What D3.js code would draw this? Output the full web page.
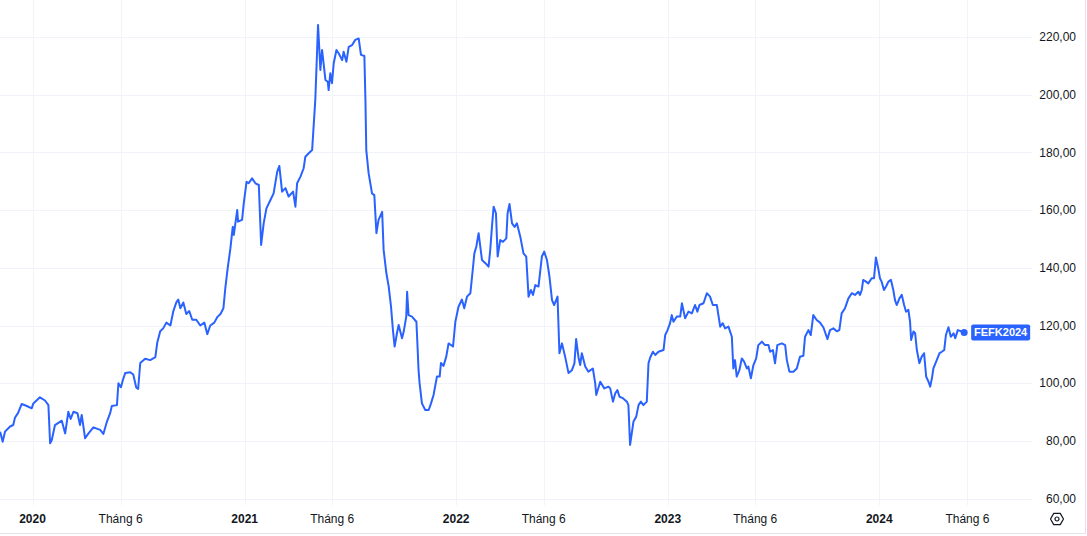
<!DOCTYPE html>
<html>
<head>
<meta charset="utf-8">
<script src="https://cdn.jsdelivr.net/npm/d3@7"></script>
<style>
  html, body { margin: 0; padding: 0; background: #fff; }
  svg { display: block; font-family: "Liberation Sans", Arial, sans-serif; }
</style>
</head>
<body>
<svg id="chart"></svg>
<script>
// Giá FEFK2024 – thời gian dạng năm thập phân
const times = [
  2019.847, 2019.859, 2019.870, 2019.894, 2019.909, 2019.917, 2019.932, 2019.949, 2019.973, 2019.996,
  2020.004, 2020.035, 2020.059, 2020.075, 2020.083, 2020.091, 2020.106, 2020.138, 2020.154, 2020.169,
  2020.180, 2020.193, 2020.212, 2020.224, 2020.232, 2020.248, 2020.264, 2020.287, 2020.319, 2020.334,
  2020.351, 2020.366, 2020.374, 2020.398, 2020.405, 2020.417, 2020.426,
  2020.437, 2020.461, 2020.475, 2020.489, 2020.498, 2020.508, 2020.531, 2020.555, 2020.579, 2020.588,
  2020.602, 2020.616, 2020.631, 2020.650, 2020.664, 2020.678, 2020.687, 2020.697, 2020.711, 2020.725,
  2020.739, 2020.753, 2020.772, 2020.791, 2020.810, 2020.824, 2020.838, 2020.857, 2020.872, 2020.886,
  2020.900, 2020.909,
  2020.920, 2020.933, 2020.944, 2020.949, 2020.965, 2020.969, 2020.988, 2020.996, 2021.009, 2021.019,
  2021.035, 2021.051, 2021.067, 2021.078, 2021.090, 2021.103, 2021.122, 2021.137, 2021.154, 2021.164,
  2021.177, 2021.193, 2021.208, 2021.229, 2021.240, 2021.248, 2021.264, 2021.279, 2021.287, 2021.303,
  2021.319,
  2021.334, 2021.347, 2021.358, 2021.366, 2021.382, 2021.393, 2021.397, 2021.405, 2021.413, 2021.421,
  2021.434, 2021.445, 2021.461, 2021.468, 2021.481, 2021.492, 2021.508, 2021.523, 2021.539, 2021.550,
  2021.566, 2021.571, 2021.575,
  2021.586, 2021.598, 2021.602, 2021.613, 2021.623, 2021.633, 2021.650, 2021.657, 2021.670, 2021.681,
  2021.692, 2021.701, 2021.709, 2021.720, 2021.728, 2021.744, 2021.752, 2021.764, 2021.768, 2021.775,
  2021.791, 2021.812, 2021.818, 2021.822, 2021.827, 2021.838, 2021.854, 2021.870, 2021.881, 2021.893,
  2021.909, 2021.922, 2021.928, 2021.940, 2021.953, 2021.964, 2021.985, 2021.996, 2022.011, 2022.027,
  2022.038, 2022.051, 2022.067, 2022.075, 2022.086, 2022.095, 2022.106, 2022.114,
  2022.122, 2022.138, 2022.153, 2022.161, 2022.169, 2022.177, 2022.188, 2022.196, 2022.208, 2022.221,
  2022.237, 2022.243, 2022.252, 2022.264, 2022.276, 2022.287, 2022.303, 2022.318, 2022.331, 2022.342,
  2022.353, 2022.363, 2022.374, 2022.389, 2022.405, 2022.416, 2022.429, 2022.441, 2022.453, 2022.463,
  2022.479, 2022.488, 2022.500, 2022.515, 2022.531, 2022.547, 2022.559, 2022.567, 2022.578, 2022.586,
  2022.594, 2022.610, 2022.625, 2022.646, 2022.657, 2022.662, 2022.681,
  2022.700, 2022.720, 2022.728, 2022.741, 2022.752, 2022.762, 2022.772, 2022.788, 2022.807, 2022.814,
  2022.822, 2022.838, 2022.851, 2022.862, 2022.873, 2022.885, 2022.901, 2022.909, 2022.917, 2022.930,
  2022.941, 2022.956, 2022.980, 2022.988, 2022.999, 2023.011, 2023.019, 2023.027, 2023.043, 2023.059,
  2023.067, 2023.082, 2023.098, 2023.114, 2023.129, 2023.140, 2023.150, 2023.169, 2023.185, 2023.200,
  2023.213, 2023.232, 2023.248, 2023.260, 2023.271, 2023.287, 2023.303, 2023.310, 2023.318, 2023.326,
  2023.339, 2023.350, 2023.361, 2023.374, 2023.381, 2023.393, 2023.405, 2023.418, 2023.428, 2023.445,
  2023.460, 2023.476, 2023.484, 2023.497, 2023.507, 2023.518, 2023.539, 2023.555, 2023.563, 2023.575,
  2023.594, 2023.610, 2023.625, 2023.641, 2023.649, 2023.665, 2023.676, 2023.688, 2023.704, 2023.720,
  2023.736, 2023.755, 2023.767, 2023.783, 2023.799, 2023.811,
  2023.822, 2023.838, 2023.854, 2023.870, 2023.885, 2023.901, 2023.909, 2023.917, 2023.924, 2023.937,
  2023.948, 2023.964, 2023.975, 2023.984, 2023.995, 2024.003, 2024.011, 2024.022, 2024.032, 2024.043,
  2024.055, 2024.066, 2024.074, 2024.082, 2024.095, 2024.106, 2024.117, 2024.126, 2024.137, 2024.145,
  2024.150, 2024.161, 2024.169, 2024.177, 2024.189, 2024.200, 2024.211, 2024.221, 2024.232, 2024.240,
  2024.248, 2024.255, 2024.268, 2024.284, 2024.295, 2024.306, 2024.314, 2024.326, 2024.337, 2024.350,
  2024.358, 2024.370, 2024.389, 2024.400
];

const prices = [
  83.2, 79.7, 83.2, 85, 85.5, 88, 89.7, 92.8, 92.1, 91.3,
  93, 95.1, 94, 92.4, 79.2, 80.3, 85.5, 87, 82.6, 90.1,
  87.6, 90.1, 89.6, 85.5, 89, 80.9, 82.6, 84.7, 83.8, 82.4,
  86.7, 89.6, 92.1, 92.4, 100, 98.6, 101.1,
  103.5, 103.8, 103, 98.5, 98, 107, 108.5, 108, 109, 114,
  118, 119, 121, 120, 125, 128, 129, 126, 128, 124,
  125, 122, 122, 120, 121, 117, 120, 121, 123, 124,
  126, 133,
  139.8, 146.8, 154.2, 151.4, 160, 156, 156.6, 162.4, 169.8, 169.3,
  171, 169.3, 168.7, 147.9, 155.4, 160.6, 163.5, 165.8, 173.3, 175.3,
  166.4, 167.6, 164.7, 166.4, 161.2, 169.3, 171.6, 174.5, 178.5, 179.7,
  180.8,
  198.2, 224.2, 208.6, 215.5, 205.1, 204.5, 201.6, 207.4, 204, 210.9,
  215.5, 214.3, 212, 214.9, 211.4, 216.6, 217.2, 219, 219.5, 213.8,
  213.4, 198.2, 180.8,
  172.8, 167.6, 165.8, 165.2, 152, 156.6, 159.4, 146.2, 138.1, 133.5,
  126.5, 118.4, 112.7, 117.3, 120.2, 115.6, 117.9, 123.1, 131.7, 123.6,
  123.1, 121.3, 111.5, 104.6, 100, 93, 90.7, 90.7, 93, 95.9,
  102.3, 102.3, 107, 106, 109.2, 113.8, 112.7, 121.3, 126.5, 129,
  126, 130, 131.2, 136.9, 145, 147.3, 152, 147.3,
  142.7, 141.6, 140.4, 146.2, 154.2, 161.2, 158.9, 143.9, 149.6, 149,
  150.2, 158.9, 162.1, 155.4, 154.2, 155.4, 150.8, 145, 143.9, 130,
  132.3, 130.6, 134, 133.5, 143.9, 145.6, 142.7, 136.9, 128.8, 127.1,
  130, 110.4, 113.8, 109.2, 103.5, 104.5, 106.9, 115.3, 109, 106.3,
  110.4, 105.8, 104, 105.1, 100, 95.9, 100.5,
  98.2, 98.8, 98.2, 93.6, 96.5, 97.6, 95.3, 94.8, 93.6, 92.4,
  78.6, 86.7, 88.4, 92.4, 93.6, 92.4, 93.6, 106.9, 108.9, 110.9,
  109.8, 110.9, 111.5, 116.7, 118.4, 120.8, 123.6, 121.3, 123.1, 123.1,
  127.7, 122.5, 124.8, 124.2, 127.1, 124.8, 127.1, 127.7, 131.2, 130,
  127.1, 127.1, 119.6, 120.8, 119, 119.6, 116.1, 105.1, 108, 102.3,
  104.6, 108.6, 107.5, 105.1, 105.8, 101.7, 106.3, 108.6, 113.2, 114.4,
  113.2, 113.2, 110.9, 111.5, 106.9, 113.2, 113.8, 113.2, 108, 104,
  104, 105.1, 109.2, 109.5, 116.1, 118.4, 116.7, 123.6, 121.9, 121,
  119.3, 115.3, 118.4, 119, 118, 118.4,
  124.2, 126, 129.4, 131.2, 130.6, 131.7, 130.6, 132.3, 135.8, 135.2,
  134.6, 136.4, 136.4, 143.6, 139.8, 136.4, 135.2, 132.3, 133.5, 135.2,
  135.8, 132.3, 128.8, 127.1, 129.4, 130.6, 127.1, 124.8, 125.4, 121.3,
  115, 117.9, 117.3, 111.5, 106.9, 109.2, 110.4, 102.3, 100.5, 98.8,
  101.7, 105.1, 107.5, 110.4, 110.9, 111.5, 116.7, 119.4, 116.1, 117.3,
  115.6, 118.4, 117.9, 117.6
];

const symbol = "FEFK2024";
const yTicks = [60, 80, 100, 120, 140, 160, 180, 200, 220];
const tickDates = ["2020-01-01", "2020-06-01", "2021-01-01", "2021-06-01", "2022-01-01",
                   "2022-06-01", "2023-01-01", "2023-06-01", "2024-01-01", "2024-06-01"];
const tickLabels = ["2020", "Tháng 6", "2021", "Tháng 6", "2022", "Tháng 6", "2023", "Tháng 6", "2024", "Tháng 6"];

const width = 1087, height = 536;
const plotRight = 1032, plotBottom = 505;
const lineColor = "#2962ff", gridColor = "#f0f3fa", textColor = "#131722";

function fromDecimalYear(t) {
    const y = Math.floor(t);
    const a = Date.UTC(y, 0, 1), b = Date.UTC(y + 1, 0, 1);
    return new Date(a + (t - y) * (b - a));
}

const data = times.map((t, i) => ({ date: fromDecimalYear(t), value: prices[i] }));

const svg = d3.select("#chart").attr("width", width).attr("height", height);
svg.append("rect").attr("width", width).attr("height", height).attr("fill", "#fff");

const x = d3.scaleUtc()
    .domain([new Date(Date.UTC(2020, 0, 1)), new Date(Date.UTC(2024, 0, 1))])
    .range([32.5, 879.3]);
const y = d3.scaleLinear().domain([60, 220]).range([498.6, 37]);

svg.append("defs").append("clipPath").attr("id", "plotClip")
    .append("rect").attr("x", 0).attr("y", 0).attr("width", plotRight).attr("height", plotBottom);

// lưới
const grid = svg.append("g").attr("clip-path", "url(#plotClip)");
grid.selectAll("line.h").data(yTicks).enter().append("line").attr("class", "h")
    .attr("x1", 0).attr("x2", plotRight)
    .attr("y1", d => Math.round(y(d)) + 0.5).attr("y2", d => Math.round(y(d)) + 0.5)
    .attr("stroke", gridColor).attr("stroke-width", 1);
const tickParsed = tickDates.map(s => new Date(s + "T00:00:00Z"));
grid.selectAll("line.v").data(tickParsed).enter().append("line").attr("class", "v")
    .attr("x1", d => Math.round(x(d)) + 0.5).attr("x2", d => Math.round(x(d)) + 0.5)
    .attr("y1", 0).attr("y2", plotBottom)
    .attr("stroke", gridColor).attr("stroke-width", 1);

// đường giá
const line = d3.line().x(d => x(d.date)).y(d => y(d.value));
svg.append("g").attr("clip-path", "url(#plotClip)")
    .append("path").datum(data)
    .attr("fill", "none").attr("stroke", lineColor).attr("stroke-width", 2)
    .attr("stroke-linejoin", "round").attr("d", line);

const last = data[data.length - 1];
svg.append("circle").attr("cx", x(last.date)).attr("cy", y(last.value)).attr("r", 3.5).attr("fill", lineColor);

// nhãn mã
const lx = x(last.date) + 7, ly = y(last.value);
svg.append("rect").attr("x", lx).attr("y", ly - 8).attr("width", 59).attr("height", 16)
    .attr("rx", 2).attr("fill", lineColor);
svg.append("text").attr("x", lx + 29.5).attr("y", ly).attr("dy", "0.36em")
    .attr("text-anchor", "middle").attr("fill", "#fff")
    .style("font-size", "11px").style("font-weight", "bold").text(symbol);

// trục giá
svg.append("g").selectAll("text").data(yTicks).enter().append("text")
    .attr("x", 1076).attr("y", d => y(d)).attr("dy", "0.35em")
    .attr("text-anchor", "end").attr("fill", textColor).style("font-size", "12px")
    .text(d => d3.format(".2f")(d).replace(".", ","));

// trục thời gian
svg.append("g").selectAll("text").data(tickParsed).enter().append("text")
    .attr("x", d => x(d)).attr("y", 519).attr("dy", "0.35em")
    .attr("text-anchor", "middle").attr("fill", textColor).style("font-size", "12px")
    .style("font-weight", (d, i) => d.getUTCMonth() === 0 ? "bold" : "normal")
    .text((d, i) => tickLabels[i]);

// viền
svg.append("line").attr("x1", 0).attr("x2", 1086).attr("y1", 533.5).attr("y2", 533.5)
    .attr("stroke", "#e0e3eb");
svg.append("line").attr("x1", 1085.5).attr("x2", 1085.5).attr("y1", 0).attr("y2", 534)
    .attr("stroke", "#e0e3eb");

// biểu tượng cài đặt
const ic = svg.append("g").attr("transform", "translate(1057,519)");
const hex = d3.range(6).map(k => {
    const a = Math.PI / 3 * k;
    return [6.5 * Math.cos(a), 6.5 * Math.sin(a)];
});
ic.append("path").attr("d", d3.line().curve(d3.curveLinearClosed)(hex))
    .attr("fill", "none").attr("stroke", textColor).attr("stroke-width", 1.2).attr("stroke-linejoin", "round");
ic.append("circle").attr("r", 2).attr("fill", "none").attr("stroke", textColor).attr("stroke-width", 1.2);
</script>
</body>
</html>
